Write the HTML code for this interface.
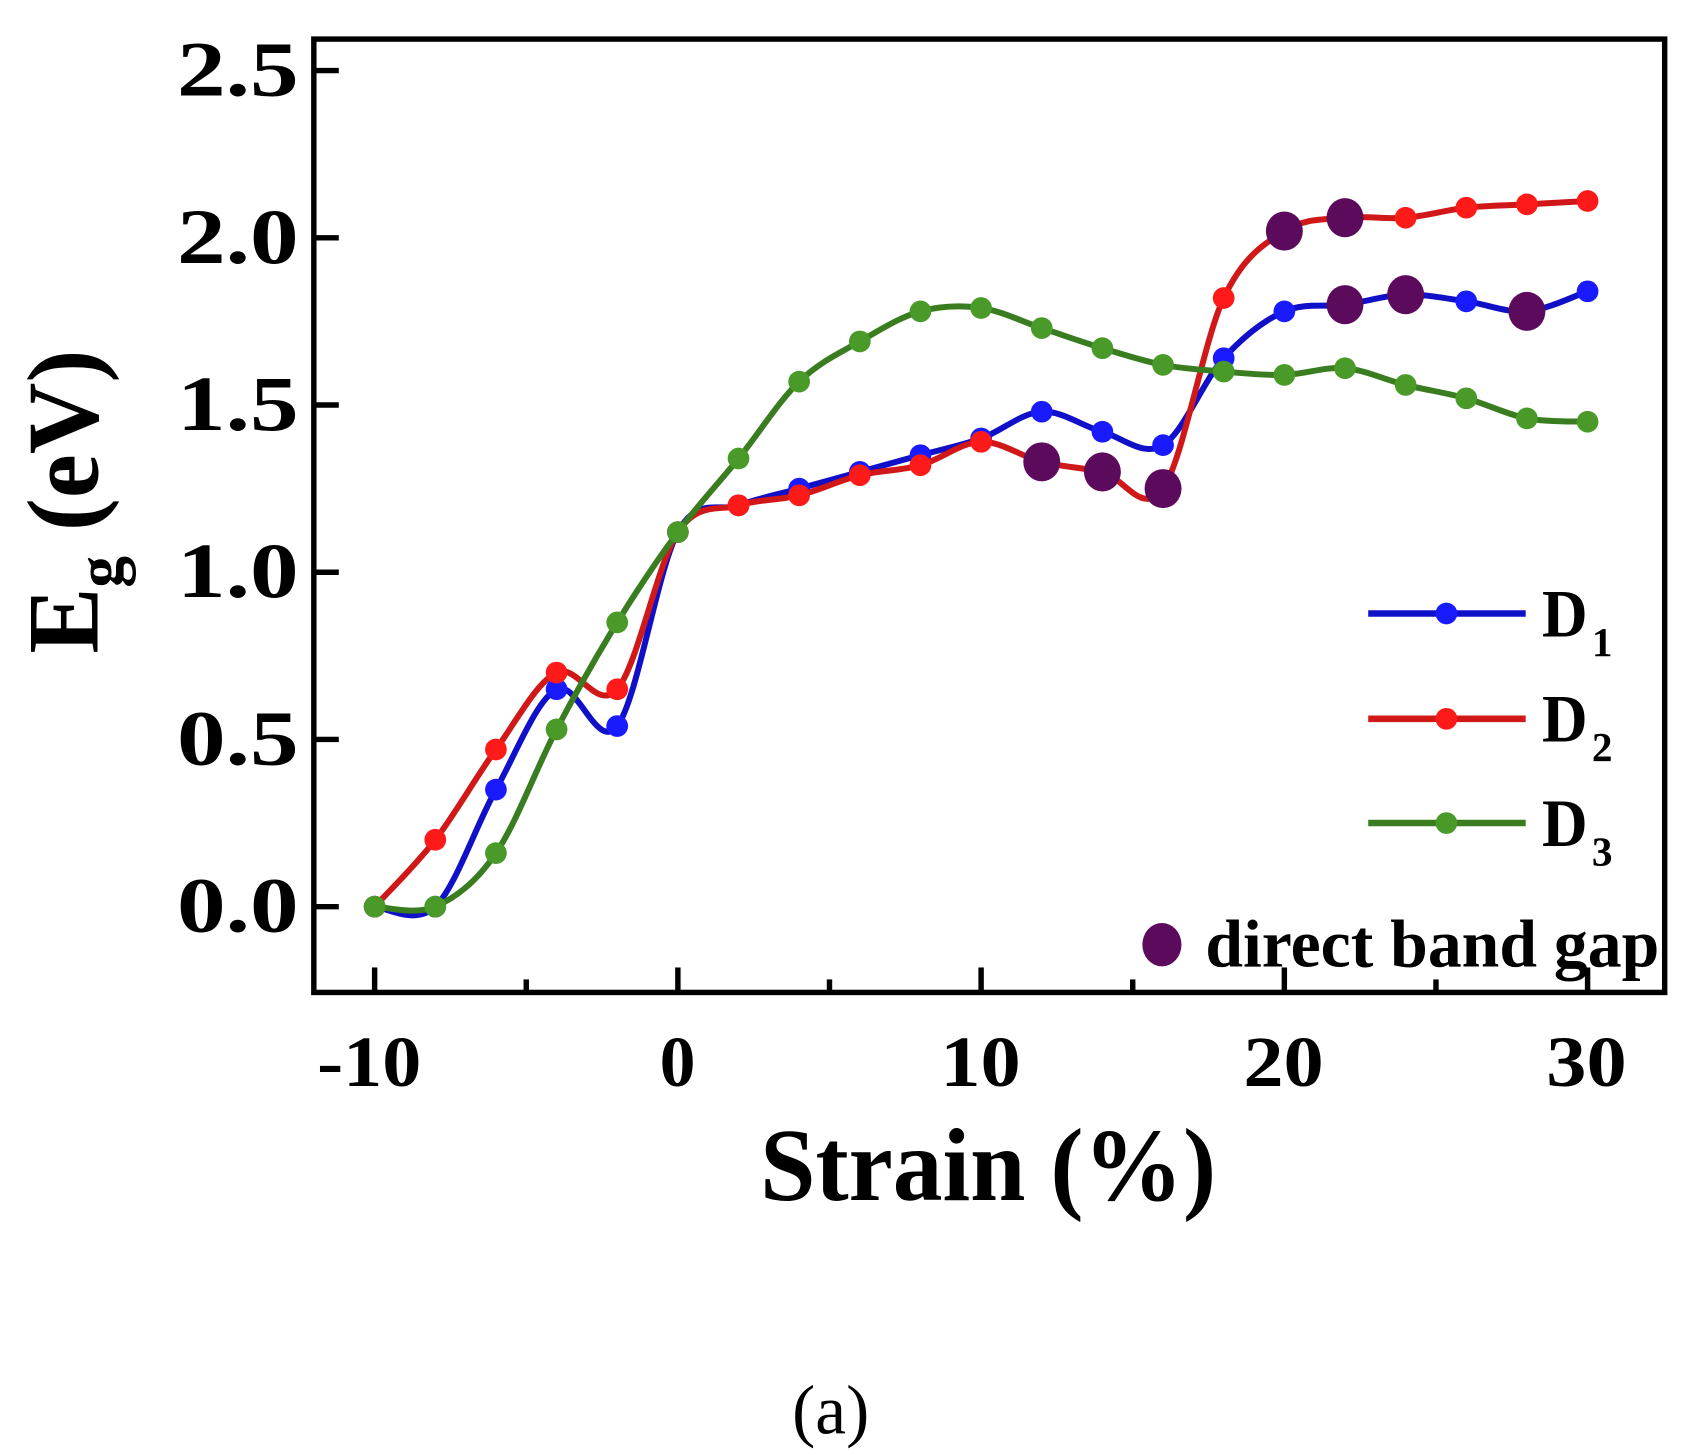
<!DOCTYPE html>
<html><head><meta charset="utf-8"><style>html,body{margin:0;padding:0;background:#fff}svg{display:block}</style></head>
<body>
<svg id="s" width="1694" height="1455" viewBox="0 0 1560 1340" preserveAspectRatio="none" xmlns="http://www.w3.org/2000/svg" font-family="'Liberation Serif',serif" font-weight="bold">
<rect x="0" y="0" width="1560" height="1340" fill="#fff"/>
<g id="plot"></g>
<rect x="289" y="36" width="1244" height="878" fill="none" stroke="#000" stroke-width="5"/>
<g id="ticks" stroke="#000" stroke-width="5"></g>
<g font-size="72" text-anchor="end">
<text x="275" y="88" textLength="112" lengthAdjust="spacingAndGlyphs">2.5</text>
<text x="275" y="242" textLength="112" lengthAdjust="spacingAndGlyphs">2.0</text>
<text x="275" y="396" textLength="112" lengthAdjust="spacingAndGlyphs">1.5</text>
<text x="275" y="550" textLength="112" lengthAdjust="spacingAndGlyphs">1.0</text>
<text x="275" y="704" textLength="112" lengthAdjust="spacingAndGlyphs">0.5</text>
<text x="275" y="858" textLength="112" lengthAdjust="spacingAndGlyphs">0.0</text>
</g>
<g font-size="66" text-anchor="middle">
<text x="340" y="1000" textLength="96" lengthAdjust="spacingAndGlyphs">-10</text>
<text x="624" y="1000">0</text>
<text x="903" y="1000" textLength="74" lengthAdjust="spacingAndGlyphs">10</text>
<text x="1182" y="1000" textLength="74" lengthAdjust="spacingAndGlyphs">20</text>
<text x="1461" y="1000" textLength="74" lengthAdjust="spacingAndGlyphs">30</text>
</g>
<text x="910" y="1105" font-size="96" text-anchor="middle" textLength="420" lengthAdjust="spacingAndGlyphs">Strain (%)</text>
<g transform="translate(90,462) rotate(-90)"><text x="0" y="0" font-size="94" text-anchor="middle" textLength="280" lengthAdjust="spacingAndGlyphs">E<tspan font-size="60" dy="22">g</tspan><tspan dy="-22"> (eV)</tspan></text></g>
<text x="765" y="1320" font-size="64" font-weight="normal" text-anchor="middle">(a)</text>
<g stroke-width="6">
<line x1="1260" y1="565" x2="1405" y2="565" stroke="#1010c8"/><circle cx="1332" cy="565" r="10" fill="#1a1aff"/>
<line x1="1260" y1="662" x2="1405" y2="662" stroke="#d01818"/><circle cx="1332" cy="662" r="10" fill="#ff1a1a"/>
<line x1="1260" y1="758" x2="1405" y2="758" stroke="#3a7d20"/><circle cx="1332" cy="758" r="10" fill="#4a9a2a"/>
</g>
<g font-size="62">
<text x="1420" y="586" textLength="42" lengthAdjust="spacingAndGlyphs">D</text><text x="1466" y="604" font-size="38">1</text>
<text x="1420" y="683" textLength="42" lengthAdjust="spacingAndGlyphs">D</text><text x="1466" y="701" font-size="38">2</text>
<text x="1420" y="779" textLength="42" lengthAdjust="spacingAndGlyphs">D</text><text x="1466" y="797" font-size="38">3</text>
<text x="1110" y="890" textLength="418" lengthAdjust="spacingAndGlyphs">direct band gap</text>
</g>
<ellipse cx="1070" cy="870" rx="18" ry="20" fill="#5c0b5c"/>
</svg>
<script>
var X=function(s){return 345+(s+10)*27.925},Y=function(v){return 835-v*308};
var xs=[];for(var s=-10;s<=30;s+=2)xs.push(s);
var D1=[0,0,0.35,0.65,0.54,1.12,1.2,1.25,1.3,1.35,1.4,1.48,1.42,1.38,1.64,1.78,1.8,1.83,1.81,1.78,1.84];
var D2=[0,0.2,0.47,0.7,0.65,1.12,1.2,1.23,1.29,1.32,1.39,1.33,1.3,1.25,1.82,2.02,2.06,2.06,2.09,2.1,2.11];
var D3=[0,0,0.16,0.53,0.85,1.12,1.34,1.57,1.69,1.78,1.79,1.73,1.67,1.62,1.6,1.59,1.61,1.56,1.52,1.46,1.45];
function path(d){var p=xs.map(function(s,i){return[X(s),Y(d[i])]});var o="M"+p[0][0]+","+p[0][1];
for(var i=0;i<p.length-1;i++){var a=p[Math.max(0,i-1)],b=p[i],c=p[i+1],e=p[Math.min(p.length-1,i+2)];
o+="C"+(b[0]+(c[0]-a[0])/6)+","+(b[1]+(c[1]-a[1])/6)+" "+(c[0]-(e[0]-b[0])/6)+","+(c[1]-(e[1]-b[1])/6)+" "+c[0]+","+c[1];}return o;}
var g=document.getElementById("plot"),h="";
[[D1,"#1010c8","#1a1aff"],[D2,"#d01818","#ff1a1a"],[D3,"#3a7d20","#4a9a2a"]].forEach(function(q){
h+='<path d="'+path(q[0])+'" fill="none" stroke="'+q[1]+'" stroke-width="5.5"/>';
xs.forEach(function(s,i){h+='<circle cx="'+X(s)+'" cy="'+Y(q[0][i])+'" r="10" fill="'+q[2]+'"/>';});});
[[12,1.33],[14,1.3],[16,1.25],[20,2.02],[22,2.06],[22,1.8],[24,1.83],[28,1.78]].forEach(function(p){
h+='<ellipse cx="'+X(p[0])+'" cy="'+Y(p[1])+'" rx="17" ry="18" fill="#5c0b5c"/>';});
g.innerHTML=h;
var t="";[0,0.5,1,1.5,2,2.5].forEach(function(v){t+='<line x1="289" y1="'+Y(v)+'" x2="312" y2="'+Y(v)+'"/>';});
for(var s=-10;s<=30;s+=5){t+='<line x1="'+X(s)+'" y1="914" x2="'+X(s)+'" y2="'+(s%10==0?891:902)+'"/>';}
document.getElementById("ticks").innerHTML=t;
</script>
</body></html>
